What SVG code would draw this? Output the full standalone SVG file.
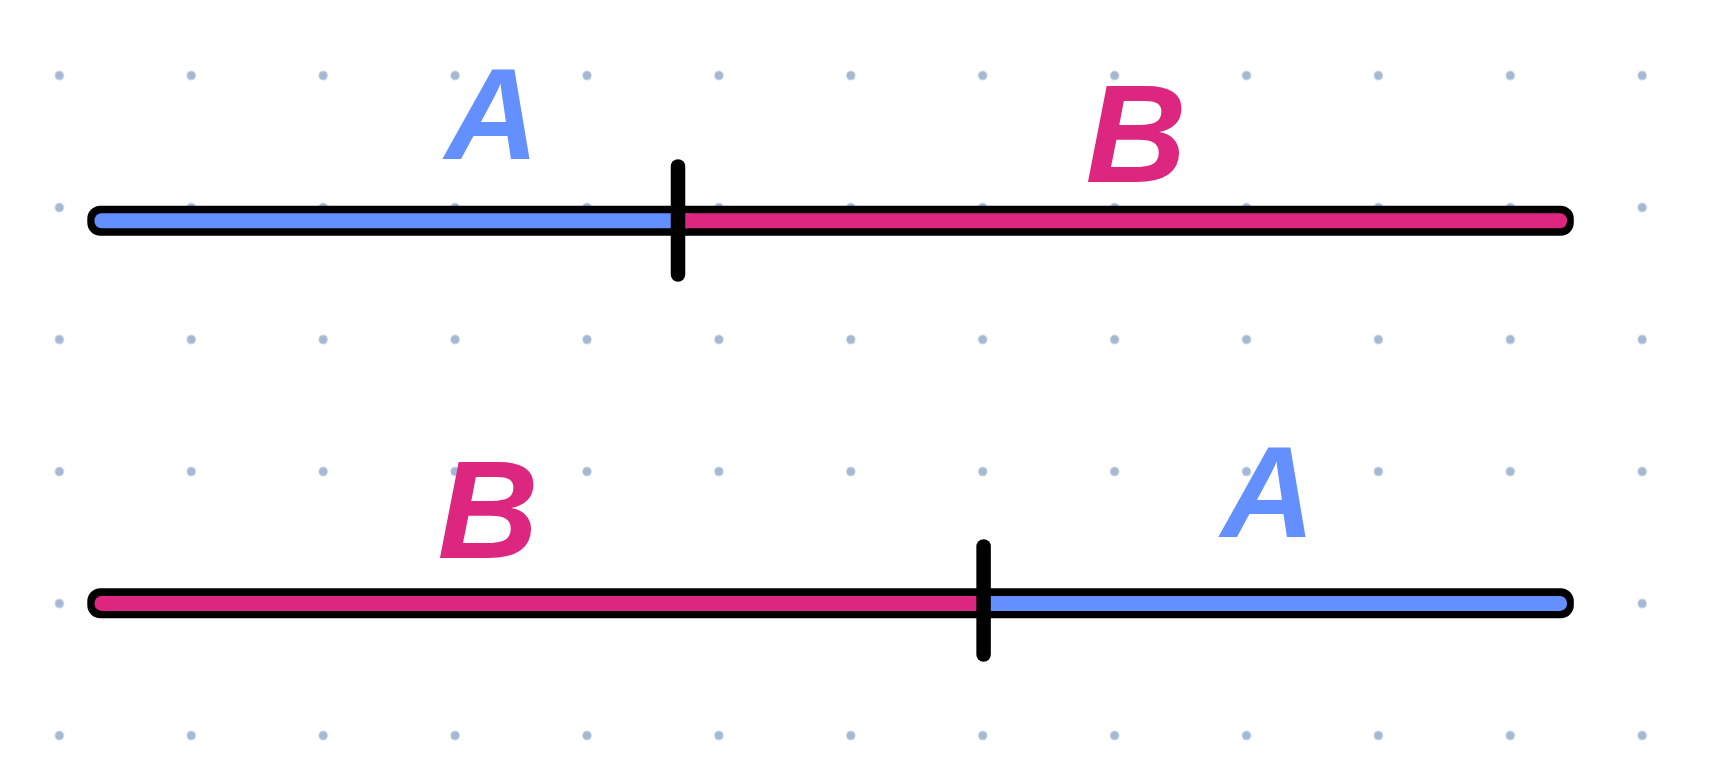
<svg xmlns="http://www.w3.org/2000/svg" width="1719" height="758" viewBox="0 0 1719 758">
<defs>
<style>
.dot{fill:#a5b8d4}
.outline{fill:#000}
.blue{fill:#648fff}
.pink{fill:#dc267f}
.tick{stroke:#000;stroke-width:14.5;stroke-linecap:round;fill:none}
.lbl{font-family:"Liberation Sans",Arial,sans-serif;font-weight:bold;font-style:italic;text-anchor:middle}
.la{fill:#648fff;font-size:130px}
.lb{fill:#dc267f;font-size:140px}
</style>
<pattern id="grid" x="59.4" y="75.5" width="131.9" height="132" patternUnits="userSpaceOnUse">
<circle cx="0" cy="0" r="4.5" class="dot"/>
<circle cx="131.9" cy="0" r="4.5" class="dot"/>
<circle cx="0" cy="132" r="4.5" class="dot"/>
<circle cx="131.9" cy="132" r="4.5" class="dot"/>
</pattern>
</defs>
<rect width="1719" height="758" fill="#fff"/>
<rect x="50" y="66" width="1604" height="676" fill="url(#grid)"/>
<g id="bar1">
<rect class="outline" x="87.3" y="205.7" width="1486.5" height="30" rx="13"/>
<rect class="blue" x="94.5" y="213.3" width="600" height="15" rx="7"/>
<rect class="pink" x="678" y="213.3" width="889" height="15" rx="7"/>
<text class="lbl la" x="492" y="159">A</text>
<text class="lbl lb" x="1136" y="182">B</text>
</g>
<g id="bar2">
<rect class="outline" x="87.3" y="588.3" width="1486.5" height="30" rx="13"/>
<rect class="pink" x="94.5" y="595.9" width="900" height="15" rx="7"/>
<rect class="blue" x="983.6" y="595.9" width="583.4" height="15" rx="7"/>
<text class="lbl lb" x="488" y="558">B</text>
<text class="lbl la" x="1268" y="537">A</text>
</g>
<g id="connectors">
<line class="tick" x1="678" y1="166.5" x2="678" y2="274.5"/>
<line class="tick" x1="983.6" y1="546.5" x2="983.6" y2="654.5"/>
</g>
</svg>
